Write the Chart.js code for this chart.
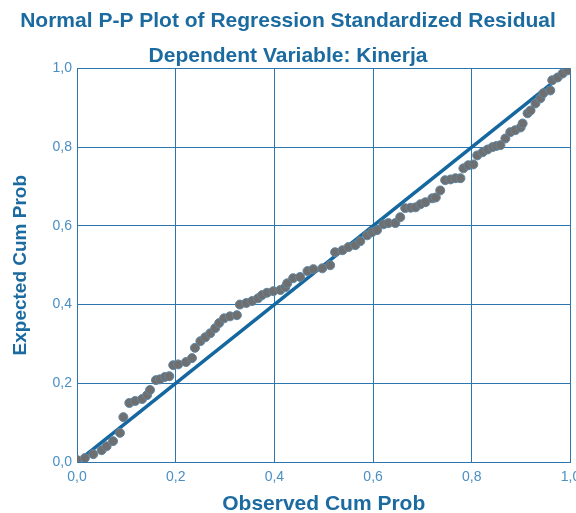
<!DOCTYPE html>
<html>
<head>
<meta charset="utf-8">
<script src="https://cdn.jsdelivr.net/npm/chart.js@4.4.0/dist/chart.umd.min.js"></script>
<style>
  html, body { margin: 0; padding: 0; background: #fff; }
  #wrap { width: 576px; height: 513px; }
</style>
</head>
<body>
<div id="wrap"><canvas id="ppChart" width="576" height="513"></canvas></div>
<script>
// --- DADOS ---
const observedCumProb = [
  0.000, 0.016, 0.033, 0.050, 0.060, 0.073, 0.087, 0.094, 0.106, 0.118,
  0.132, 0.142, 0.148, 0.160, 0.168, 0.178, 0.187, 0.195, 0.205, 0.221,
  0.233, 0.239, 0.250, 0.260, 0.270, 0.280, 0.288, 0.298, 0.310, 0.324,
  0.330, 0.343, 0.355, 0.367, 0.375, 0.385, 0.398, 0.412, 0.422, 0.426,
  0.438, 0.452, 0.467, 0.479, 0.497, 0.513, 0.523, 0.538, 0.550, 0.564,
  0.574, 0.588, 0.598, 0.608, 0.621, 0.631, 0.645, 0.655, 0.665, 0.676,
  0.686, 0.696, 0.706, 0.720, 0.727, 0.736, 0.746, 0.757, 0.767, 0.777,
  0.783, 0.793, 0.803, 0.811, 0.822, 0.832, 0.842, 0.850, 0.858, 0.868,
  0.878, 0.888, 0.899, 0.903, 0.913, 0.919, 0.929, 0.939, 0.945, 0.959,
  0.963, 0.974, 0.984, 0.994
];
const expectedCumProb = [
  0.005, 0.010, 0.020, 0.030, 0.040, 0.053, 0.074, 0.114, 0.150, 0.155,
  0.160, 0.170, 0.183, 0.208, 0.210, 0.216, 0.218, 0.246, 0.248, 0.254,
  0.264, 0.290, 0.307, 0.317, 0.327, 0.340, 0.353, 0.365, 0.370, 0.373,
  0.400, 0.404, 0.409, 0.416, 0.424, 0.430, 0.434, 0.437, 0.444, 0.454,
  0.467, 0.470, 0.485, 0.490, 0.492, 0.500, 0.533, 0.538, 0.546, 0.551,
  0.561, 0.576, 0.584, 0.589, 0.604, 0.607, 0.607, 0.622, 0.645, 0.646,
  0.647, 0.655, 0.660, 0.670, 0.672, 0.690, 0.716, 0.718, 0.721, 0.721,
  0.746, 0.754, 0.756, 0.779, 0.787, 0.794, 0.800, 0.803, 0.805, 0.822,
  0.838, 0.843, 0.850, 0.860, 0.886, 0.893, 0.911, 0.924, 0.937, 0.944,
  0.970, 0.977, 0.987, 0.995
];
const referenceLine = [0, 1];
const tickValues = [0, 0.2, 0.4, 0.6, 0.8, 1.0];

// --- ESTILO ---
const TITLE_COLOR = '#1b6aa0';
const TICK_COLOR = '#4a8fc3';
const GRID_COLOR = '#2c76ad';
const LINE_COLOR = '#15679f';
const FONT = "'Liberation Sans', Arial, sans-serif";

const fmt = v => v.toFixed(1).replace('.', ',');

const points = observedCumProb.map((x, i) => ({ x, y: expectedCumProb[i] }));
const diagonal = referenceLine.map(v => ({ x: v, y: v }));

const ctx = document.getElementById('ppChart').getContext('2d');
new Chart(ctx, {
  type: 'scatter',
  data: {
    datasets: [
      {
        type: 'line',
        data: diagonal,
        borderColor: LINE_COLOR,
        borderWidth: 3.5,
        pointRadius: 0,
        fill: false,
        order: 1
      },
      {
        data: points,
        pointRadius: 4.5,
        pointBackgroundColor: '#6f6f6f',
        pointBorderColor: '#5f87a3',
        pointBorderWidth: 1,
        order: 0
      }
    ]
  },
  options: {
    responsive: false,
    animation: false,
    layout: { padding: 0 },
    plugins: {
      legend: { display: false },
      tooltip: { enabled: false },
      title: {
        display: true,
        text: 'Normal P-P Plot of Regression Standardized Residual',
        color: TITLE_COLOR,
        font: { family: FONT, size: 21, weight: 'bold' },
        padding: { top: 9, bottom: 5 }
      },
      subtitle: {
        display: true,
        text: 'Dependent Variable: Kinerja',
        color: TITLE_COLOR,
        font: { family: FONT, size: 21, weight: 'bold' },
        padding: { top: 4, bottom: 0 }
      }
    },
    scales: {
      x: {
        type: 'linear',
        min: 0, max: 1,
        afterBuildTicks: axis => { axis.ticks = tickValues.map(v => ({ value: v })); },
        afterFit: axis => { axis.height = 51; axis.paddingRight = 0; axis.paddingLeft = 0; },
        ticks: {
          color: TICK_COLOR,
          font: { family: FONT, size: 14 },
          padding: 7,
          callback: v => fmt(v)
        },
        grid: { color: GRID_COLOR, lineWidth: 1, drawTicks: false },
        border: { color: GRID_COLOR, width: 1 },
        title: {
          display: true,
          text: 'Observed Cum Prob',
          color: TITLE_COLOR,
          font: { family: FONT, size: 21, weight: 'bold', lineHeight: 0.8 },
          padding: { top: 0, bottom: 0 }
        }
      },
      y: {
        type: 'linear',
        min: 0, max: 1,
        afterBuildTicks: axis => { axis.ticks = tickValues.map(v => ({ value: v })); },
        afterFit: axis => { axis.width = 77; axis.paddingTop = 0; axis.paddingBottom = 0; },
        ticks: {
          color: TICK_COLOR,
          font: { family: FONT, size: 14 },
          padding: 5,
          callback: v => fmt(v)
        },
        grid: { color: GRID_COLOR, lineWidth: 1, drawTicks: false },
        border: { color: GRID_COLOR, width: 1 },
        title: {
          display: true,
          text: 'Expected Cum Prob',
          color: TITLE_COLOR,
          font: { family: FONT, size: 19, weight: 'bold' },
          padding: { top: 9, bottom: 0 }
        }
      }
    }
  }
});
</script>
</body>
</html>
